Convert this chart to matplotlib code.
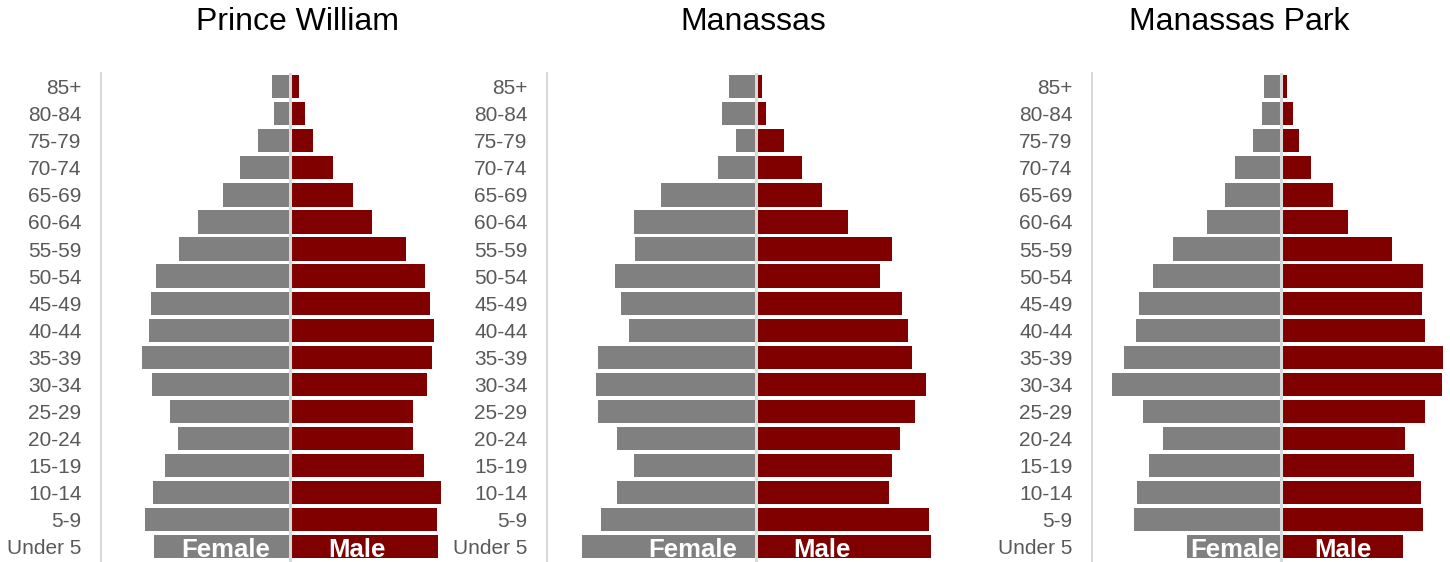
import matplotlib
matplotlib.use("Agg")
import matplotlib.pyplot as plt
import numpy as np

plt.rcParams['font.family'] = ['Liberation Sans', 'DejaVu Sans']

age_groups = ["Under 5", "5-9", "10-14", "15-19", "20-24", "25-29", "30-34", "35-39",
              "40-44", "45-49", "50-54", "55-59", "60-64", "65-69", "70-74", "75-79",
              "80-84", "85+"]

# values (bar lengths, youngest -> oldest)
pw_female = [136, 145, 137, 125, 112, 120, 138, 148, 141, 139, 134, 111, 92, 67, 50, 32, 16, 18]
pw_male = [148, 147, 151, 134, 123, 123, 137, 142, 144, 140, 135, 116, 82, 63, 43, 23, 15, 9]

man_female = [174, 155, 139, 122, 139, 158, 160, 158, 127, 135, 141, 121, 122, 95, 38, 20, 34, 27]
man_male = [175, 173, 133, 136, 144, 159, 170, 156, 152, 146, 124, 136, 92, 66, 46, 28, 10, 6]

mp_female = [94, 147, 144, 132, 118, 138, 169, 157, 145, 142, 128, 108, 74, 56, 46, 28, 19, 17]
mp_male = [122, 142, 140, 133, 124, 144, 161, 162, 144, 141, 142, 111, 67, 52, 30, 18, 12, 6]

panels = [
    ("Prince William", pw_female, pw_male),
    ("Manassas", man_female, man_male),
    ("Manassas Park", mp_female, mp_male),
]

W, H = 1450, 562
# axes placement in pixels: (spine x, center x, right x), title x, label offsets
layout = [
    (101, 290, 460, 298, -20, 67),
    (547, 756, 940, 753, -19, 66),
    (1092, 1281, 1450, 1239, -2, 62),
]

female_color = "#808080"
male_color = "#800000"
grid_color = "#d9d9d9"
label_color = "#595959"

fig = plt.figure(figsize=(W / 100, H / 100), dpi=100)

y = np.arange(len(age_groups))
top_px, row0_px, pitch = 73, 546.7, 27.06

for (title, female, male), (sx, cx, rx, tx, foff, moff) in zip(panels, layout):
    ax = fig.add_axes([sx / W, 0, (rx - sx) / W, (H - top_px) / H])
    ax.barh(y, -np.array(female), height=0.86, color=female_color)
    ax.barh(y, male, height=0.86, color=male_color)
    ax.axvline(0, color=grid_color, lw=2.2, zorder=3)

    ax.set_xlim(sx - cx, rx - cx)
    ax.set_ylim(-(H - row0_px) / pitch, 17 + (row0_px - 17 * pitch - top_px) / pitch)

    ax.set_yticks(y)
    ax.set_yticklabels(age_groups)
    ax.tick_params(axis='y', length=0, pad=14, labelsize=15, labelcolor=label_color)
    ax.set_xticks([])
    for side in ["top", "right", "bottom"]:
        ax.spines[side].set_visible(False)
    ax.spines["left"].set_color(grid_color)
    ax.spines["left"].set_linewidth(1.5)

    ax.text(foff, -0.37, "Female", ha="right", va="baseline", color="white",
            fontsize=18.5, fontweight="bold", zorder=4, clip_on=False)
    ax.text(moff, -0.37, "Male", ha="center", va="baseline", color="white",
            fontsize=18.5, fontweight="bold", zorder=4, clip_on=False)

    fig.text(tx / W, 1 - 22 / H, title, ha="center", va="center", fontsize=23, color="black")

fig.savefig("out.png", dpi=100)
